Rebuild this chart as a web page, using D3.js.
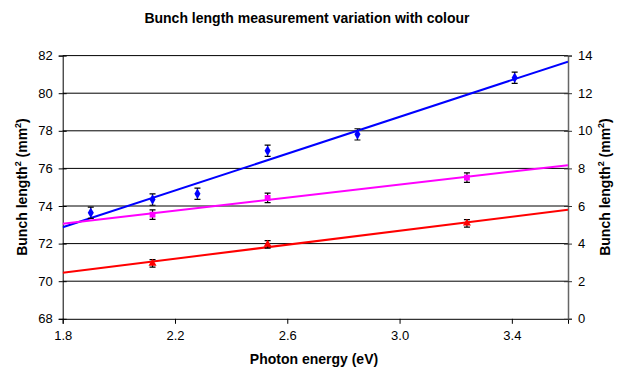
<!DOCTYPE html>
<html><head><meta charset="utf-8">
<script src="https://cdn.jsdelivr.net/npm/d3@7"></script>
<style>body{margin:0;background:#fff}svg{display:block;font-family:"Liberation Sans",Arial,sans-serif}</style>
</head><body><svg id="c" width="623" height="373"></svg>
<script>
const title = "Bunch length measurement variation with colour";
const xTicks = [1.8, 2.2, 2.6, 3.0, 3.4];
const leftTicks = [68, 70, 72, 74, 76, 78, 80, 82];
const rightTicks = [0, 2, 4, 6, 8, 10, 12, 14];
// blue series (left axis)
const blueX = [1.90, 2.12, 2.28, 2.53, 2.85, 3.41];
const blueY = [73.64, 74.34, 74.65, 76.94, 77.81, 80.82];
const blueErr = [0.3, 0.3, 0.3, 0.3, 0.3, 0.3];
// magenta series (right axis)
const magX = [2.12, 2.53, 3.24];
const magY = [5.54, 6.43, 7.51];
const magErr = [0.25, 0.25, 0.25];
// red series (right axis)
const redX = [2.12, 2.53, 3.24];
const redY = [2.95, 3.96, 5.08];
const redErr = [0.2, 0.2, 0.2];

const svg = d3.select("#c");
const L = 62.7, R = 568, T = 55.6, B = 318.8;
const x = d3.scaleLinear().domain([1.8, 3.6]).range([L, R]);
const yL = d3.scaleLinear().domain([68, 82]).range([B, T]);
const yR = d3.scaleLinear().domain([0, 14]).range([B, T]);

// gridlines
svg.append("g").selectAll("line").data(leftTicks.slice(1)).join("line")
  .attr("x1", L).attr("x2", R).attr("y1", d => yL(d)).attr("y2", d => yL(d))
  .attr("stroke", "#000").attr("stroke-width", 1);

// axes
const gx = svg.append("g").attr("transform", `translate(0,${B})`)
  .call(d3.axisBottom(x).tickValues(xTicks).tickFormat(d3.format(".1f")).tickSize(5).tickPadding(7));
const gl = svg.append("g").attr("transform", `translate(${L},0)`)
  .call(d3.axisLeft(yL).tickValues(leftTicks).tickSize(4).tickPadding(6));
const gr = svg.append("g").attr("transform", `translate(${R},0)`)
  .call(d3.axisRight(yR).tickValues(rightTicks).tickSize(4).tickPadding(6));
gl.selectAll(".tick line").attr("x2", -4).clone().attr("x2", 4);
gr.selectAll(".tick line").clone().attr("x2", -4);
[gx, gl, gr].forEach(g => {
  g.selectAll("text").attr("font-size", 13).attr("fill", "#000").attr("font-family", "Liberation Sans, Arial, sans-serif");
  g.select(".domain").attr("stroke", "#000");
  g.selectAll(".tick line").attr("stroke", "#000");
});
gr.select(".domain").attr("stroke", "#666").attr("stroke-width", 1.5);
gr.selectAll(".tick line").attr("stroke", "#333");

// trendline helper (least squares)
function fit(xs, ys) {
  const mx = d3.mean(xs), my = d3.mean(ys);
  let sxy = 0, sxx = 0;
  xs.forEach((v, i) => { sxy += (v - mx) * (ys[i] - my); sxx += (v - mx) ** 2; });
  const m = sxy / sxx;
  return v => my + m * (v - mx);
}
const series = [
  {xs: blueX, ys: blueY, err: blueErr, y: yL, color: "#0000ff", sym: d3.symbolDiamond, size: 32},
  {xs: magX, ys: magY, err: magErr, y: yR, color: "#ff00ff", sym: d3.symbolSquare, size: 34},
  {xs: redX, ys: redY, err: redErr, y: yR, color: "#ff0000", sym: d3.symbolTriangle, size: 28}
];
svg.append("clipPath").attr("id", "pa").append("rect")
  .attr("x", L).attr("y", T).attr("width", R - L).attr("height", B - T);
series.forEach(s => {
  const f = fit(s.xs, s.ys);
  svg.append("line").attr("clip-path", "url(#pa)")
    .attr("x1", x(1.8)).attr("x2", x(3.6))
    .attr("y1", s.y(f(1.8))).attr("y2", s.y(f(3.6)))
    .attr("stroke", s.color).attr("stroke-width", 2);
});
series.forEach(s => {
  const g = svg.append("g");
  const pts = s.xs.map((v, i) => ({x: v, y: s.ys[i], e: s.err[i]}));
  g.selectAll("path.eb").data(pts).join("path").attr("class", "eb")
    .attr("d", d => {
      const cx = x(d.x), y1 = s.y(d.y + d.e), y2 = s.y(d.y - d.e);
      return `M${cx},${y1}V${y2}M${cx-3},${y1}H${cx+3}M${cx-3},${y2}H${cx+3}`;
    })
    .attr("stroke", "#000").attr("stroke-width", 1.2).attr("fill", "none");
  g.selectAll("path.mk").data(pts).join("path").attr("class", "mk")
    .attr("transform", d => `translate(${x(d.x)},${s.y(d.y)})`)
    .attr("d", d3.symbol().type(s.sym).size(s.size))
    .attr("fill", s.color);
});

// titles
svg.append("text").attr("x", 307).attr("y", 23).attr("text-anchor", "middle")
  .attr("font-size", 14).attr("font-weight", "bold").text(title);
svg.append("text").attr("x", 314).attr("y", 364).attr("text-anchor", "middle")
  .attr("font-size", 14).attr("font-weight", "bold").text("Photon energy (eV)");
function yTitle(xp) {
  const t = svg.append("text").attr("transform", `translate(${xp},187) rotate(-90)`)
    .attr("text-anchor", "middle").attr("font-size", 14).attr("font-weight", "bold");
  t.append("tspan").text("Bunch length");
  t.append("tspan").attr("font-size", 9).attr("dy", -6).text("2");
  t.append("tspan").attr("dy", 6).text(" (mm");
  t.append("tspan").attr("font-size", 9).attr("dy", -6).text("2");
  t.append("tspan").attr("dy", 6).text(")");
}
yTitle(27);
yTitle(610);
</script></body></html>
